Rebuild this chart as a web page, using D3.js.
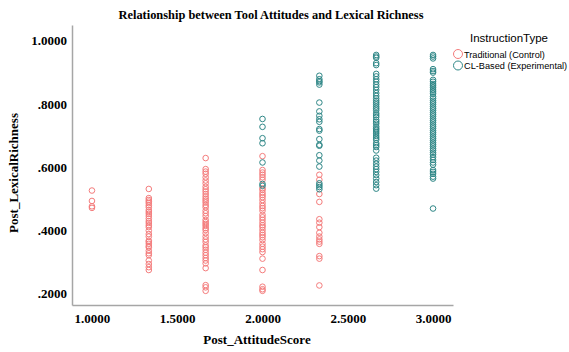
<!DOCTYPE html>
<html>
<head>
<meta charset="utf-8">
<script src="https://cdn.jsdelivr.net/npm/d3@7"></script>
<style>
  html, body { margin: 0; padding: 0; background: #fff; }
  svg { display: block; }
</style>
</head>
<body>
<svg id="chart" width="569" height="352"></svg>
<script>
// ---- data ----
const attitudeLevels = [1.0, 1.3333, 1.6667, 2.0, 2.3333, 2.6667, 3.0];
const xTicks = [1.0, 1.5, 2.0, 2.5, 3.0];
const yTicks = [0.2, 0.4, 0.6, 0.8, 1.0];
const seriesNames = ["Traditional (Control)", "CL-Based (Experimental)"];

// Post_LexicalRichness values of the Traditional group, per attitude level
const traditionalValues = [
  [0.525, 0.492, 0.475, 0.470],
  [0.530, 0.501, 0.495, 0.490, 0.485, 0.478, 0.472, 0.463, 0.457, 0.451, 0.444, 0.436, 0.428, 0.422, 0.415, 0.409,
   0.398, 0.387, 0.379, 0.366, 0.362, 0.356, 0.349, 0.345, 0.334, 0.326, 0.320, 0.303, 0.292, 0.282, 0.273],
  [0.628, 0.593, 0.585, 0.578, 0.567, 0.557, 0.548, 0.537, 0.529, 0.522, 0.514, 0.506, 0.499, 0.493, 0.487, 0.479,
   0.472, 0.461, 0.453, 0.444, 0.432, 0.425, 0.419, 0.413, 0.406, 0.400, 0.390, 0.379, 0.370, 0.362, 0.351, 0.345,
   0.337, 0.328, 0.320, 0.311, 0.303, 0.294, 0.279, 0.225, 0.218, 0.207],
  [0.634, 0.590, 0.582, 0.575, 0.567, 0.559, 0.532, 0.527, 0.518, 0.511, 0.504, 0.495, 0.485, 0.476, 0.469, 0.461,
   0.448, 0.440, 0.432, 0.423, 0.415, 0.409, 0.400, 0.391, 0.384, 0.377, 0.368, 0.356, 0.347, 0.339, 0.330, 0.309,
   0.273, 0.220, 0.212, 0.207],
  [0.575, 0.559, 0.514, 0.489, 0.434, 0.423, 0.409, 0.391, 0.379, 0.370, 0.363, 0.356, 0.317, 0.309, 0.224],
  [],
  []
];

// Post_LexicalRichness values of the CL-Based group, per attitude level
const clBasedValues = [
  [],
  [],
  [],
  [0.752, 0.727, 0.691, 0.675, 0.614, 0.546, 0.540],
  [0.889, 0.878, 0.872, 0.868, 0.861, 0.804, 0.776, 0.762, 0.751, 0.743, 0.720, 0.715, 0.688, 0.670, 0.667, 0.637,
   0.620, 0.601, 0.548, 0.542, 0.536, 0.529],
  [0.955, 0.950, 0.946, 0.929, 0.923, 0.895, 0.887, 0.878, 0.870, 0.861, 0.853, 0.844, 0.834, 0.825, 0.817, 0.810,
   0.804, 0.798, 0.791, 0.785, 0.779, 0.770, 0.764, 0.758, 0.749, 0.743, 0.737, 0.728, 0.722, 0.717, 0.711, 0.705,
   0.698, 0.692, 0.686, 0.675, 0.669, 0.663, 0.652, 0.629, 0.620, 0.610, 0.601, 0.593, 0.584, 0.574, 0.563, 0.552,
   0.542, 0.531],
  [0.955, 0.950, 0.944, 0.910, 0.904, 0.899, 0.876, 0.870, 0.863, 0.857, 0.851, 0.844, 0.838, 0.832, 0.823, 0.817,
   0.810, 0.804, 0.798, 0.791, 0.785, 0.779, 0.772, 0.766, 0.760, 0.753, 0.747, 0.741, 0.734, 0.728, 0.722, 0.715,
   0.709, 0.703, 0.696, 0.690, 0.684, 0.677, 0.671, 0.665, 0.658, 0.652, 0.645, 0.639, 0.631, 0.622, 0.614, 0.607,
   0.590, 0.584, 0.578, 0.569, 0.563, 0.468]
];

// ---- layout ----
const colors = ["#f47c7c", "#2f8787"];
const serif = "'Liberation Serif', 'Times New Roman', serif";
const sans = "'Liberation Sans', Arial, sans-serif";
const plot = { left: 72, right: 453, top: 25, bottom: 305 };

const svg = d3.select("#chart");

const x = d3.scaleLinear().domain([0.883, 3.117]).range([plot.left, plot.right]);
const y = d3.scaleLinear().domain([0.162, 1.05]).range([plot.bottom, plot.top]);

const fmt = v => { const s = d3.format(".4f")(v); return s.startsWith("0.") ? s.slice(1) : s; };

// title
svg.append("text")
  .attr("x", 271).attr("y", 19)
  .attr("text-anchor", "middle")
  .style("font-family", serif).style("font-weight", "bold").style("font-size", "12.4px")
  .text("Relationship between Tool Attitudes and Lexical Richness");

// axes
const xAxis = svg.append("g")
  .attr("transform", `translate(0,${plot.bottom})`)
  .call(d3.axisBottom(x).tickValues(xTicks).tickSize(0).tickSizeOuter(0).tickPadding(9).tickFormat(fmt));
const yAxis = svg.append("g")
  .attr("transform", `translate(${plot.left},0)`)
  .call(d3.axisLeft(y).tickValues(yTicks).tickSize(0).tickSizeOuter(0).tickPadding(5).tickFormat(fmt));

[xAxis, yAxis].forEach(g => {
  g.select(".domain").attr("stroke", "#a6a6a6").attr("stroke-width", 1.5);
  g.selectAll("text")
    .style("font-family", serif).style("font-weight", "bold").style("font-size", "13px").attr("fill", "#000");
});

// axis titles
svg.append("text")
  .attr("x", 257).attr("y", 344)
  .attr("text-anchor", "middle")
  .style("font-family", serif).style("font-weight", "bold").style("font-size", "13px")
  .text("Post_AttitudeScore");
svg.append("text")
  .attr("transform", "translate(18,173) rotate(-90)")
  .attr("text-anchor", "middle")
  .style("font-family", serif).style("font-weight", "bold").style("font-size", "13px")
  .text("Post_LexicalRichness");

// points
const series = [traditionalValues, clBasedValues];
series.forEach((vals, si) => {
  const pts = [];
  vals.forEach((arr, li) => arr.forEach(v => pts.push([attitudeLevels[li], v])));
  svg.append("g").selectAll("circle")
    .data(pts).join("circle")
    .attr("cx", d => x(d[0]))
    .attr("cy", d => y(d[1]))
    .attr("r", 2.8)
    .attr("fill", "none")
    .attr("stroke", colors[si])
    .attr("stroke-width", 1);
});

// legend
const lg = svg.append("g");
lg.append("text")
  .attr("x", 509).attr("y", 42)
  .attr("text-anchor", "middle")
  .style("font-family", sans).style("font-size", "11.5px")
  .text("InstructionType");
seriesNames.forEach((name, i) => {
  const cy = 54 + i * 11.5;
  lg.append("circle")
    .attr("cx", 458).attr("cy", cy).attr("r", 4.5)
    .attr("fill", "none").attr("stroke", colors[i]).attr("stroke-width", 1);
  lg.append("text")
    .attr("x", 464).attr("y", cy + 3.5)
    .style("font-family", sans).style("font-size", "9.2px")
    .text(name);
});
</script>
</body>
</html>
